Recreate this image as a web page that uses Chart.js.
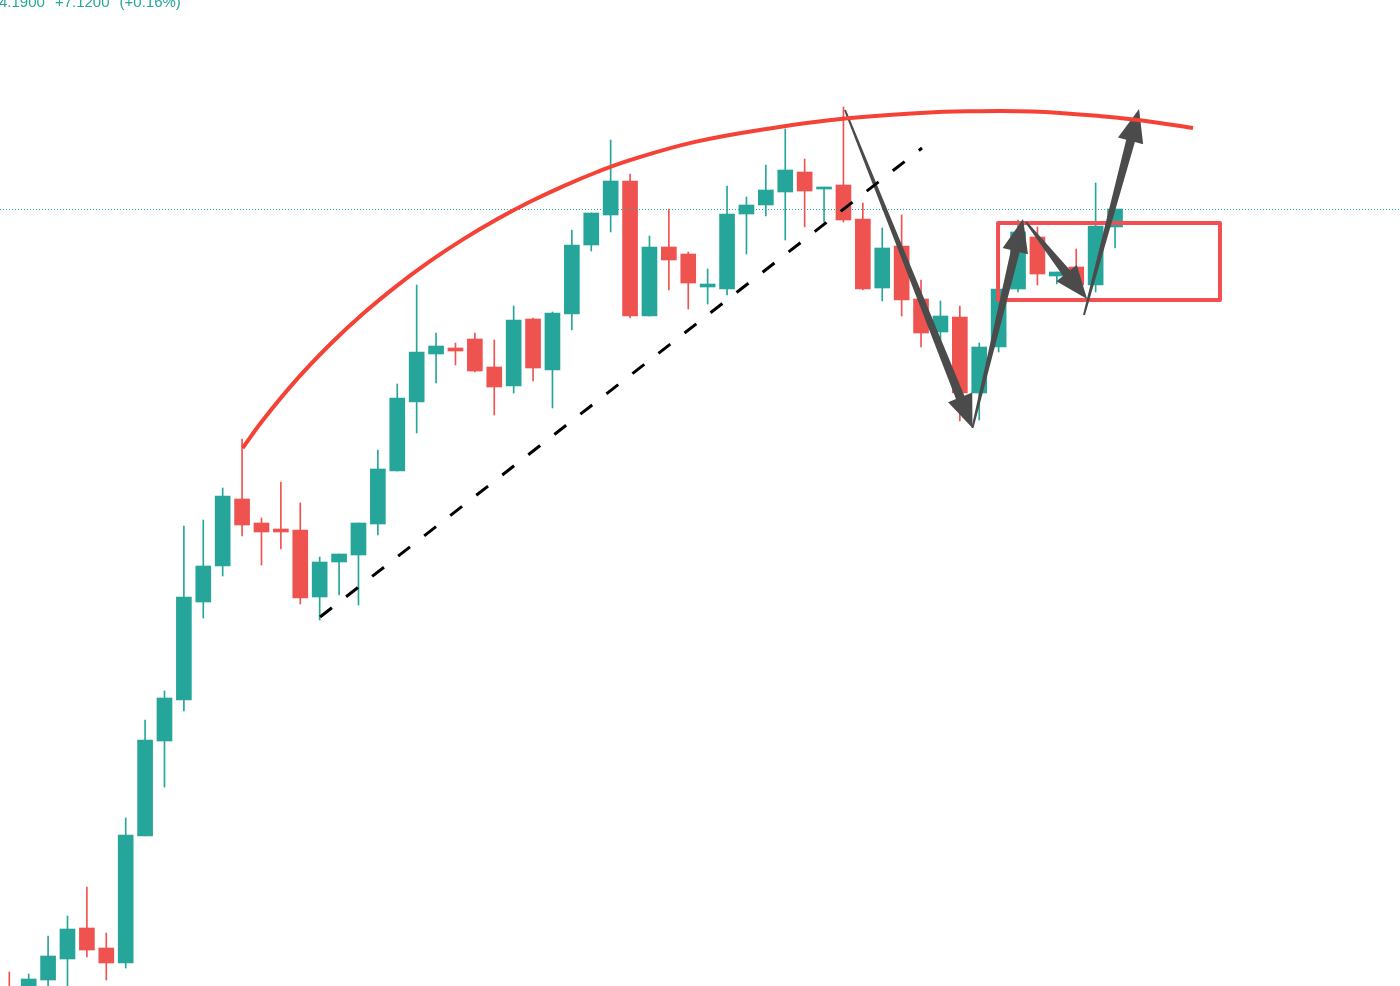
<!DOCTYPE html>
<html>
<head>
<meta charset="utf-8">
<script src="https://cdn.jsdelivr.net/npm/chart.js@4/dist/chart.umd.min.js"></script>
<style>
    html, body { margin: 0; padding: 0; background: #fff; overflow: hidden; }
    #wrap { position: relative; width: 1400px; height: 986px; }
    #legend { position: absolute; left: -1px; top: -6px; z-index: 2; white-space: nowrap;
        font: 15px "Liberation Sans", Arial, sans-serif; line-height: 15px; color: #26a69a; }
    #legend span { margin-right: 10px; }
</style>
</head>
<body>
<div id="wrap">
    <div id="legend"><span>4.1900</span><span>+7.1200</span><span>(+0.16%)</span></div>
    <canvas id="chart"></canvas>
</div>
<script>
// weekly candles, oldest first
const opens = [3675, 3667, 3683, 3704, 3735, 3715, 3700, 3827, 3922, 3963,
    4061, 4097, 4164, 4140, 4134, 4133, 4066, 4101, 4108, 4139,
    4192, 4261, 4309, 4315, 4324, 4296, 4277, 4344, 4293, 4349,
    4418, 4448, 4482, 4347, 4416, 4409, 4376, 4374, 4449, 4458,
    4471, 4491, 4474, 4478, 4444, 4375, 4417, 4364, 4331, 4346,
    4270, 4316, 4374, 4426, 4387, 4396, 4378, 4436];
const highs = [3691, 3689, 3727, 3747, 3776, 3730, 3845, 3943, 3972, 4137,
    4143, 4175, 4224, 4145, 4181, 4160, 4106, 4109, 4140, 4213,
    4279, 4378, 4330, 4320, 4330, 4323, 4357, 4345, 4351, 4433,
    4450, 4523, 4489, 4427, 4454, 4411, 4394, 4477, 4466, 4498,
    4534, 4504, 4476, 4556, 4460, 4435, 4448, 4383, 4362, 4357,
    4320, 4374, 4443, 4436, 4391, 4414, 4480, 4454];
const lows = [3658, 3663, 3673, 3673, 3706, 3683, 3695, 3827, 3876, 3952,
    4045, 4087, 4127, 4098, 4114, 4059, 4043, 4068, 4058, 4128,
    4192, 4230, 4280, 4298, 4291, 4248, 4270, 4282, 4255, 4333,
    4412, 4431, 4345, 4347, 4373, 4354, 4359, 4368, 4409, 4447,
    4423, 4436, 4441, 4441, 4373, 4362, 4347, 4316, 4323, 4242,
    4243, 4311, 4371, 4378, 4379, 4373, 4371, 4415];
const closes = [3665, 3684, 3707, 3734, 3713, 3700, 3828, 3923, 3965, 4066,
    4097, 4167, 4138, 4131, 4131, 4065, 4101, 4109, 4140, 4194,
    4265, 4311, 4317, 4312, 4292, 4276, 4343, 4295, 4350, 4418,
    4450, 4482, 4347, 4416, 4403, 4380, 4379, 4449, 4458, 4473,
    4493, 4472, 4476, 4443, 4374, 4415, 4363, 4330, 4347, 4270,
    4316, 4374, 4431, 4389, 4391, 4378, 4437, 4454];

// drawings (x in candle index, y in price)
const arcX = [12.03, 13.08, 14.83, 16.53, 18.23, 19.99, 21.69, 23.39, 25.14, 26.84,
    28.54, 30.30, 32.00, 35.35, 39.21, 43.08, 46.95, 49.42, 52.72, 56.59, 58.49, 61.02];
const arcY = [4215, 4243, 4283.8, 4318.5, 4349.2, 4377.4, 4401.8, 4423.6, 4443.7, 4461.2,
    4476.7, 4491, 4502.9, 4521.1, 4534.6, 4544.4, 4550, 4551.7, 4551.5, 4546.3, 4542.2, 4534.9];
const trendX = [16.02, 47.05];
const trendY = [4046, 4515];
const arrowFromX = [43.08, 49.65, 52.41, 55.40];
const arrowFromY = [4553, 4235, 4441, 4348];
const arrowToX = [49.65, 52.26, 55.56, 58.24];
const arrowToY = [4235, 4444, 4364, 4554];
const boxX = [50.97, 62.41];
const boxY = [4363, 4440];

const upColor = '#26a69a';
const downColor = '#ef5350';
const candleColors = closes.map((c, i) => c >= opens[i] ? upColor : downColor);

function drawArrow(ctx, x1, y1, x2, y2) {
    const dx = x2 - x1, dy = y2 - y1;
    const len = Math.hypot(dx, dy);
    const ux = dx / len, uy = dy / len, nx = -uy, ny = ux;
    const head = Math.min(33, len * 0.35), hw = 13, w0 = 1, w1 = 4.5;
    const bx = x2 - ux * head, by = y2 - uy * head;
    ctx.beginPath();
    ctx.moveTo(x1 + nx * w0, y1 + ny * w0);
    ctx.lineTo(bx + nx * w1, by + ny * w1);
    ctx.lineTo(bx + nx * hw, by + ny * hw);
    ctx.lineTo(x2, y2);
    ctx.lineTo(bx - nx * hw, by - ny * hw);
    ctx.lineTo(bx - nx * w1, by - ny * w1);
    ctx.lineTo(x1 - nx * w0, y1 - ny * w0);
    ctx.closePath();
    ctx.fill();
}

// price line, box and arrows go on top of the candles but under the curve
const drawings = {
    id: 'drawings',
    afterDatasetDraw(chart, args) {
        if (args.index !== 1) return;
        const {ctx, chartArea, scales: {x, y}} = chart;
        ctx.save();

        const py = Math.round(y.getPixelForValue(closes[closes.length - 1])) + 0.5;
        ctx.strokeStyle = upColor;
        ctx.lineWidth = 1;
        ctx.setLineDash([1, 2]);
        ctx.beginPath();
        ctx.moveTo(chartArea.left, py);
        ctx.lineTo(chartArea.right, py);
        ctx.stroke();
        ctx.setLineDash([]);

        const bl = x.getPixelForValue(boxX[0]), br = x.getPixelForValue(boxX[1]);
        const bt = y.getPixelForValue(boxY[1]), bb = y.getPixelForValue(boxY[0]);
        ctx.strokeStyle = '#f24f52';
        ctx.lineWidth = 4;
        ctx.lineJoin = 'round';
        ctx.strokeRect(bl, bt, br - bl, bb - bt);

        ctx.fillStyle = '#4b4b4b';
        arrowFromX.forEach((fx, i) => {
            drawArrow(ctx,
                x.getPixelForValue(fx), y.getPixelForValue(arrowFromY[i]),
                x.getPixelForValue(arrowToX[i]), y.getPixelForValue(arrowToY[i]));
        });
        ctx.restore();
    }
};

const canvas = document.getElementById('chart');
const chart = new Chart(canvas, {
    type: 'bar',
    data: {
        datasets: [{
                label: 'wicks',
                data: highs.map((h, i) => ({x: i, y: [lows[i], h]})),
                backgroundColor: candleColors,
                barThickness: 1,
                grouped: false,
                order: 4
            }, {
                label: 'bodies',
                data: opens.map((o, i) => ({x: i, y: [o, closes[i]]})),
                backgroundColor: candleColors,
                barThickness: 15,
                grouped: false,
                order: 3
            }, {
                type: 'line',
                label: 'trend',
                data: trendX.map((v, i) => ({x: v, y: trendY[i]})),
                borderColor: '#000',
                borderWidth: 3,
                borderDash: [15, 18],
                pointRadius: 0,
                fill: false,
                order: 2
            }, {
                type: 'line',
                label: 'arc',
                data: arcX.map((v, i) => ({x: v, y: arcY[i]})),
                borderColor: '#f44336',
                borderWidth: 4,
                tension: 0.4,
                pointRadius: 0,
                fill: false,
                order: 1
            }]
    },
    options: {
        responsive: true,
        maintainAspectRatio: false,
        animation: false,
        layout: {padding: 0},
        plugins: {
            legend: {display: false},
            tooltip: {enabled: false}
        },
        scales: {
            x: {type: 'linear', display: false, offset: false, min: -0.479, max: 71.69},
            y: {display: false, min: 3677, max: 4663}
        }
    },
    plugins: [drawings]
});
</script>
</body>
</html>
